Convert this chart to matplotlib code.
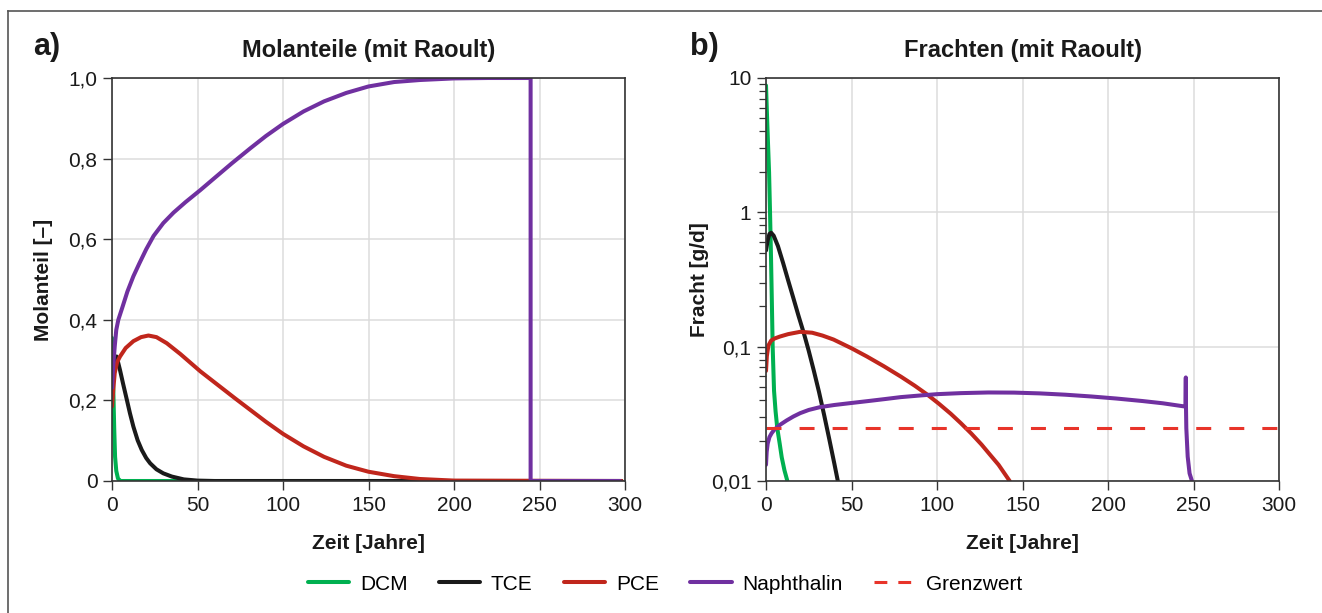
import matplotlib
matplotlib.use("Agg")
import matplotlib.pyplot as plt
from matplotlib.lines import Line2D

plt.rcParams['font.family'] = ['Liberation Sans', 'DejaVu Sans']

# ---- data, panel a: Molanteile ----
t_dcm_a = [0, 0.3, 0.8, 1.3, 1.8, 2.5, 3.5, 5, 298]
dcm_a = [0.355, 0.30, 0.22, 0.13, 0.06, 0.025, 0.006, 0, 0]

t_tce_a = [0, 1, 2, 2.7, 4.7, 6.5, 8.6, 10.5, 12.5, 15, 17.4, 20, 22.3, 26, 30, 35, 42,
           50, 60, 298]
tce_a = [0.26, 0.295, 0.308, 0.309, 0.275, 0.241, 0.203, 0.168, 0.135, 0.101, 0.077,
         0.057, 0.044, 0.029, 0.019, 0.011, 0.004, 0.001, 0, 0]

t_pce_a = [0, 0.8, 1.6, 3, 4.7, 8, 12.5, 17, 21.3, 26, 32, 40, 51.7, 62, 72, 81, 90,
           100, 112, 124, 137, 150, 165, 180, 200, 298]
pce_a = [0.185, 0.23, 0.268, 0.295, 0.309, 0.33, 0.347, 0.357, 0.361, 0.357, 0.342, 0.315,
         0.272, 0.238, 0.205, 0.176, 0.147, 0.117, 0.086, 0.06, 0.038, 0.023, 0.012, 0.005,
         0.001, 0]

t_nap_a = [0, 0.8, 1.6, 2.5, 3.7, 6, 9, 12.5, 16, 20, 24.3, 30, 36, 43, 51.7, 60, 70, 81,
           90, 100, 112, 124, 137, 150, 165, 180, 200, 220, 244.8, 244.8, 297]
nap_a = [0.231, 0.29, 0.334, 0.375, 0.40, 0.43, 0.47, 0.508, 0.54, 0.575, 0.608, 0.64,
         0.666, 0.692, 0.722, 0.752, 0.788, 0.826, 0.856, 0.886, 0.917, 0.942, 0.963,
         0.979, 0.99, 0.995, 0.999, 1.0, 1.0, 0, 0]

# ---- data, panel b: Frachten ----
t_dcm_b = [0, 0.8, 1.8, 2.35, 2.95, 3.5, 3.9, 4.7, 5.6, 6.6, 8, 9.2, 10.8, 12.5]
dcm_b = [8.8, 4.4, 1.98, 1.01, 0.45, 0.19, 0.1, 0.047, 0.033, 0.0247, 0.019, 0.015, 0.012, 0.01]

t_tce_b = [0, 1, 2, 3, 4.5, 7, 10, 13, 16, 19, 22.2, 25, 28, 31, 34, 37, 40, 42]
tce_b = [0.52, 0.62, 0.69, 0.705, 0.67, 0.56, 0.42, 0.31, 0.23, 0.17, 0.125, 0.093,
         0.066, 0.046, 0.031, 0.0205, 0.0134, 0.01]

t_pce_b = [0, 0.5, 1.4, 3, 5, 8.2, 13, 20, 27, 33, 39.5, 50, 59, 69, 79, 87, 94.4, 101,
           108, 114, 120, 126, 131, 136, 142.5]
pce_b = [0.066, 0.085, 0.102, 0.111, 0.115, 0.119, 0.124, 0.129, 0.127, 0.121, 0.113,
         0.0973, 0.0845, 0.0714, 0.0597, 0.0512, 0.0439, 0.0377, 0.0317, 0.0269, 0.0226,
         0.0187, 0.0157, 0.0132, 0.01]

t_nap_b = [0, 0.4, 1, 2, 3.3, 5, 8.2, 12, 16, 20, 25, 31.7, 40, 49.3, 60, 70, 78.7, 90,
           100, 114, 130, 145, 160, 175, 190, 205, 220, 232, 245.3, 245.5, 245.6, 245.8,
           246.6, 247.7, 249.1]
nap_b = [0.0132, 0.0165, 0.019, 0.0212, 0.0227, 0.0242, 0.0262, 0.0282, 0.0302, 0.032,
         0.0338, 0.0355, 0.0368, 0.038, 0.0394, 0.0408, 0.0421, 0.0433, 0.0443, 0.0451,
         0.0456, 0.0455, 0.0449, 0.0439, 0.0426, 0.0411, 0.0394, 0.0379, 0.0358, 0.059,
         0.036, 0.0247, 0.0152, 0.0114, 0.01]

grenzwert = 0.025
t_grenz = [0, 300]

names = ['DCM', 'TCE', 'PCE', 'Naphthalin']
colors = ['#00b050', '#1a1a1a', '#c0261c', '#7030a0']
grenz_color = '#e8342a'

xticks = [0, 50, 100, 150, 200, 250, 300]
yticks_a = [0, 0.2, 0.4, 0.6, 0.8, 1.0]
ylabels_a = ['0', '0,2', '0,4', '0,6', '0,8', '1,0']
yticks_b = [0.01, 0.1, 1, 10]
ylabels_b = ['0,01', '0,1', '1', '10']

W, H = 1322, 613
fig = plt.figure(figsize=(W / 100, H / 100), dpi=100)

ax1 = fig.add_axes([112 / W, 1 - 481 / H, 513 / W, 403 / H])
ax2 = fig.add_axes([766 / W, 1 - 481 / H, 513 / W, 403 / H])

lw = 2.9
series_a = [(t_dcm_a, dcm_a), (t_tce_a, tce_a), (t_pce_a, pce_a), (t_nap_a, nap_a)]
series_b = [(t_dcm_b, dcm_b), (t_tce_b, tce_b), (t_pce_b, pce_b), (t_nap_b, nap_b)]
for (t, v), c in zip(series_a, colors):
    ax1.plot(t, v, color=c, lw=lw, solid_capstyle='round', solid_joinstyle='round')
for (t, v), c in zip(series_b, colors):
    ax2.plot(t, v, color=c, lw=lw, solid_capstyle='round', solid_joinstyle='round')
g_lw = 2.2
ax2.plot(t_grenz, [grenzwert, grenzwert], color=grenz_color, lw=g_lw,
         dashes=(10.8 / g_lw, 13 / g_lw))

ax2.set_yscale('log')

for ax in (ax1, ax2):
    ax.set_xlim(0, 300)
    ax.set_xticks(xticks)
    ax.set_xticklabels([str(x) for x in xticks])
    ax.grid(True, which='major', color='#dcdcdc', lw=1.1)
    ax.set_axisbelow(True)
    for s in ax.spines.values():
        s.set_color('#333333')
        s.set_linewidth(1.2)
    ax.tick_params(which='major', direction='out', length=6.5, width=1, color='#333333',
                   labelsize=15, labelcolor='#1a1a1a', pad=4)
    ax.tick_params(which='minor', direction='out', length=5, width=0.9, color='#333333')
    ax.text(0.5, -0.154, 'Zeit [Jahre]', transform=ax.transAxes, ha='center', va='center',
            fontsize=15, fontweight='bold', color='#1a1a1a')

ax1.set_ylim(0, 1.0)
ax1.set_yticks(yticks_a)
ax1.set_yticklabels(ylabels_a)
ax2.set_ylim(0.01, 10)
ax2.set_yticks(yticks_b)
ax2.set_yticklabels(ylabels_b)

ax1.text(0.5, 1.067, 'Molanteile (mit Raoult)', transform=ax1.transAxes, ha='center',
         va='center', fontsize=17, fontweight='bold', color='#1a1a1a')
ax2.text(0.5, 1.067, 'Frachten (mit Raoult)', transform=ax2.transAxes, ha='center',
         va='center', fontsize=17, fontweight='bold', color='#1a1a1a')
ax1.text(-0.1326, 0.5, 'Molanteil [–]', transform=ax1.transAxes, ha='center', va='center',
         rotation=90, fontsize=15, fontweight='bold', color='#1a1a1a')
ax2.text(-0.129, 0.5, 'Fracht [g/d]', transform=ax2.transAxes, ha='center', va='center',
         rotation=90, fontsize=15, fontweight='bold', color='#1a1a1a')

fig.text(33 / W, 1 - 47 / H, 'a)', ha='left', va='center', fontsize=22, fontweight='bold',
         color='#1a1a1a')
fig.text(690 / W, 1 - 47 / H, 'b)', ha='left', va='center', fontsize=22, fontweight='bold',
         color='#1a1a1a')

# outer frame (top and left edges visible)
fig.add_artist(Line2D([7.5 / W, 1.0], [1 - 11 / H, 1 - 11 / H], color='#555555', lw=1.2,
                      transform=fig.transFigure))
fig.add_artist(Line2D([7.5 / W, 7.5 / W], [0, 1 - 11 / H], color='#555555', lw=1.2,
                      transform=fig.transFigure))

handles = [Line2D([], [], color=c, lw=2.9, solid_capstyle='round') for c in colors]
handles.append(Line2D([], [], color=grenz_color, lw=2.2, dashes=(4.2, 3.6)))
fig.legend(handles, names + ['Grenzwert'], ncol=5, loc='center',
           bbox_to_anchor=(0.503, 1 - 584 / H), frameon=False, fontsize=15,
           handlelength=2.0, handletextpad=0.5, columnspacing=1.5)

fig.savefig('out.png', dpi=100)
